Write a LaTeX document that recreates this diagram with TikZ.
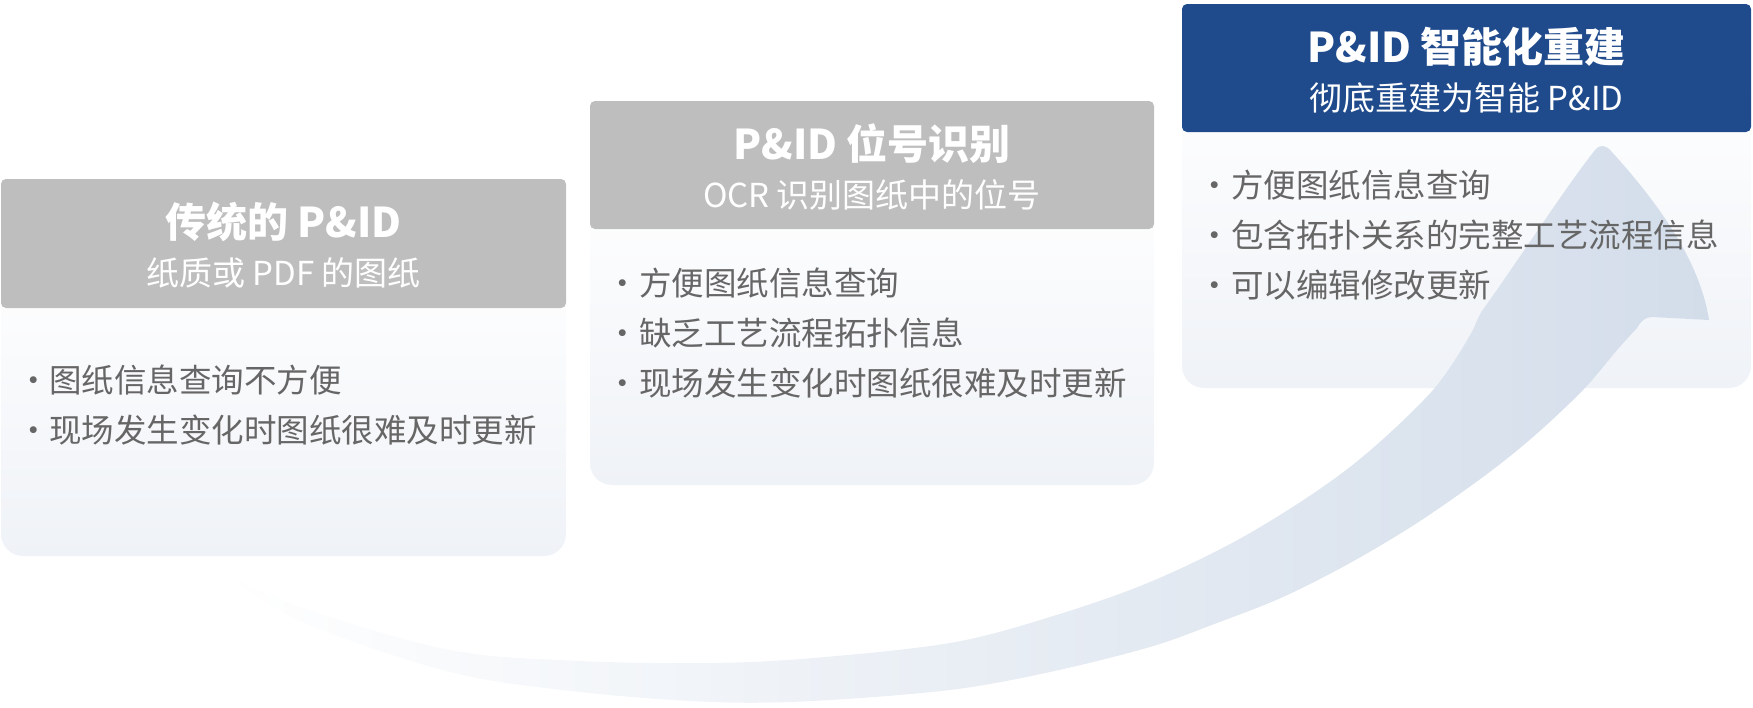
\documentclass[tikz,border=0pt]{standalone}
\usepackage{fontspec}
\newfontfamily\cjk{Noto Sans CJK SC}
\definecolor{hdrgray}{HTML}{BEBEBE}
\definecolor{hdrblue}{HTML}{1F4A8C}
\definecolor{txtgray}{HTML}{666666}
\definecolor{bodybot}{HTML}{EFF2F7}
\definecolor{arrowc}{HTML}{D3DDEA}
\begin{document}
\begin{tikzpicture}[x=1pt,y=-1pt,
  hdr/.style={rounded corners=5pt},
  body/.style={rounded corners=22pt, top color=white, bottom color=bodybot},
  ttl/.style={anchor=base, inner sep=0pt, text=white, font=\cjk\bfseries\fontsize{41}{48}\selectfont},
  sub/.style={anchor=base, inner sep=0pt, text=white, font=\cjk\fontsize{33}{40}\selectfont},
  bdot/.style={anchor=base, inner sep=0pt, text=txtgray, font=\cjk\fontsize{32.5}{40}\selectfont},
  btxt/.style={anchor=base west, inner sep=0pt, text=txtgray, font=\cjk\fontsize{32.5}{40}\selectfont},
]
\useasboundingbox (0,0) rectangle (1753,707);
% bodies
\shade[body] (1,250) rectangle (566,556);
\shade[body] (590,170) rectangle (1154,485);
\shade[body] (1182,70) rectangle (1751,388);
% arrow
\shade[left color=white, right color=arrowc]
 (218,569)
 -- plot[smooth, tension=0.55] coordinates {(218,569) (300,607) (450,650) (580,661) (711,663) (813,658) (950,643) (1050,617) (1150,582) (1250,533) (1350,467) (1433,390) (1474,328)}
 .. controls (1477,320) and (1479,316) .. (1482,311)
 .. controls (1520,258) and (1565,188) .. (1595,150)
 .. controls (1600,144) and (1606,145) .. (1611,151)
 .. controls (1660,205) and (1700,262) .. (1709,320)
 -- (1652,317)
 .. controls (1645,317) and (1641,321) .. (1637,328)
 -- plot[smooth, tension=0.55] coordinates {(1637,328) (1617,350) (1583,390) (1533,437) (1483,477) (1417,523) (1350,563) (1283,597) (1217,623) (1150,647) (1050,672) (950,690) (813,701) (711,702) (580,692) (450,672) (300,621) (218,569)}
 -- cycle;
% headers
\fill[hdrgray, hdr] (1,179) rectangle (566,308);
\fill[hdrgray, hdr] (590,101) rectangle (1154,229);
\fill[hdrblue, hdr] (1182,4) rectangle (1751,132);
% titles
\node[ttl] (t1) at (283.5,237) {传统的 P\&ID};
\node[sub] (s1) at (283.5,285) {纸质或 PDF 的图纸};
\node[ttl] (t2) at (872,159) {P\&ID 位号识别};
\node[sub] (s2) at (872,207) {OCR 识别图纸中的位号};
\node[ttl] (t3) at (1466.5,62) {P\&ID 智能化重建};
\node[sub] (s3) at (1466.5,110) {彻底重建为智能 P\&ID};
% bullets box 1
\node[bdot] (d11) at (34,392) {·};
\node[btxt] (b11) at (49,392) {图纸信息查询不方便};
\node[bdot] (d12) at (34,442) {·};
\node[btxt] (b12) at (49,442) {现场发生变化时图纸很难及时更新};
% bullets box 2
\node[bdot] (d21) at (623,295) {·};
\node[btxt] (b21) at (639,295) {方便图纸信息查询};
\node[bdot] (d22) at (623,345) {·};
\node[btxt] (b22) at (639,345) {缺乏工艺流程拓扑信息};
\node[bdot] (d23) at (623,395) {·};
\node[btxt] (b23) at (639,395) {现场发生变化时图纸很难及时更新};
% bullets box 3
\node[bdot] (d31) at (1215,197) {·};
\node[btxt] (b31) at (1231,197) {方便图纸信息查询};
\node[bdot] (d32) at (1215,247) {·};
\node[btxt] (b32) at (1231,247) {包含拓扑关系的完整工艺流程信息};
\node[bdot] (d33) at (1215,297) {·};
\node[btxt] (b33) at (1231,297) {可以编辑修改更新};
\end{tikzpicture}
\end{document}
